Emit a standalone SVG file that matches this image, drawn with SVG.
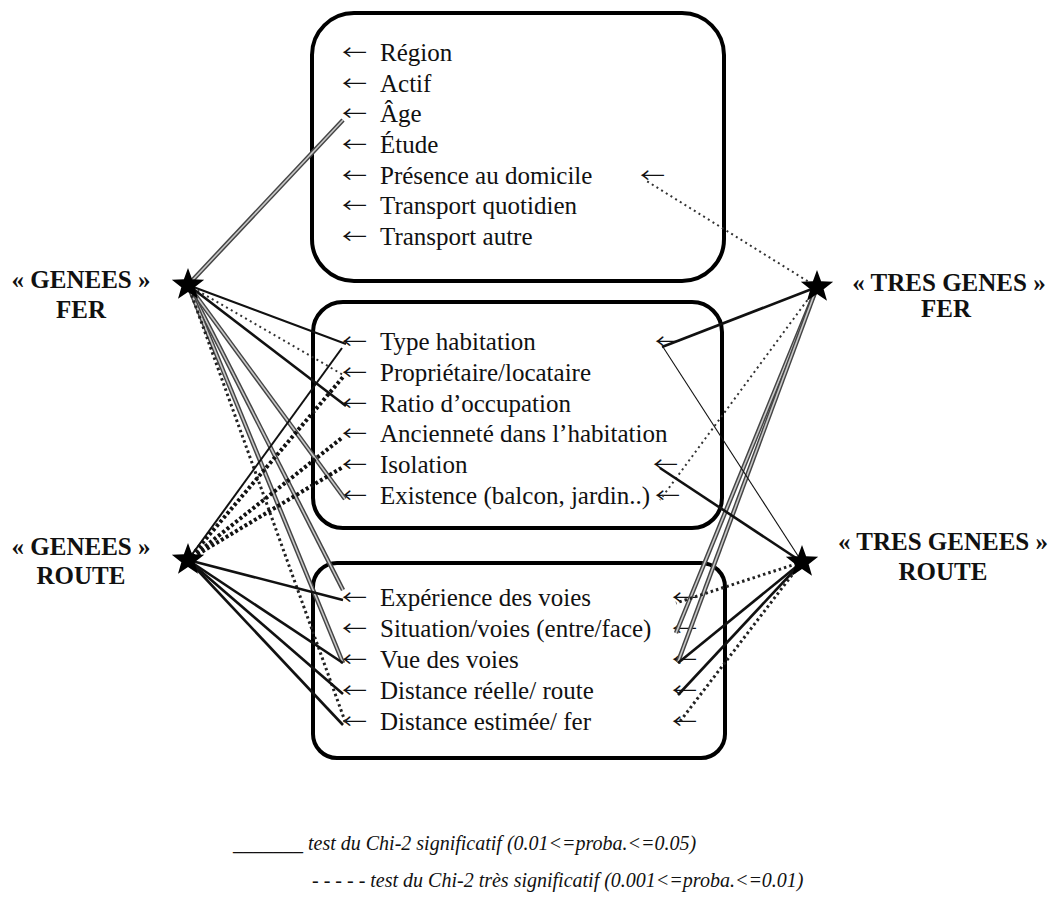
<svg xmlns="http://www.w3.org/2000/svg" width="1055" height="900" viewBox="0 0 1055 900">
<style>
.box{fill:none;stroke:#000;stroke-width:4}
.t{font-family:"Liberation Serif","Times New Roman",serif;font-size:25px;fill:#111}
.a{font-family:"Noto Sans CJK SC","Noto Sans CJK JP",sans-serif;font-size:20px;fill:#111}
.lab{font-family:"Liberation Serif","Times New Roman",serif;font-size:25px;font-weight:bold;fill:#111;text-anchor:middle}
.leg{font-family:"Liberation Serif","Times New Roman",serif;font-size:20px;font-style:italic;fill:#111}
.s{fill:none;stroke:#111;stroke-width:2.6}
.s2{fill:none;stroke:#111;stroke-width:2}
.s1{fill:none;stroke:#111;stroke-width:1.1}
.ga{fill:none;stroke:#444;stroke-width:4.5}
.gb{fill:none;stroke:#c8c8c8;stroke-width:1.6}
.d{fill:none;stroke:#222;stroke-width:3;stroke-dasharray:2.5 3}
.dh{fill:none;stroke:#111;stroke-width:4;stroke-dasharray:3 2.5}
.dt{fill:none;stroke:#333;stroke-width:2;stroke-dasharray:2 3.5}
.star{fill:#000}
</style>
<defs>
<path id="star" d="M0,-17 L4.11,-5.66 L16.17,-5.25 L6.66,2.16 L9.99,13.75 L0,7 L-9.99,13.75 L-6.66,2.16 L-16.17,-5.25 L-4.11,-5.66 Z"/>
</defs>
<rect width="1055" height="900" fill="#fff"/>

<g id="box-top">
<rect class="box" x="312" y="13" width="412" height="268" rx="42" ry="42"/>
<text class="a" x="342" y="60" textLength="25" lengthAdjust="spacingAndGlyphs">←</text><text class="t" x="380" y="61">Région</text>
<text class="a" x="342" y="91" textLength="25" lengthAdjust="spacingAndGlyphs">←</text><text class="t" x="380" y="92">Actif</text>
<text class="a" x="342" y="121" textLength="25" lengthAdjust="spacingAndGlyphs">←</text><text class="t" x="380" y="122">Âge</text>
<text class="a" x="342" y="152" textLength="25" lengthAdjust="spacingAndGlyphs">←</text><text class="t" x="380" y="153">Étude</text>
<text class="a" x="342" y="183" textLength="25" lengthAdjust="spacingAndGlyphs">←</text><text class="t" x="380" y="184">Présence au domicile</text>
<text class="a" x="640" y="183" textLength="25" lengthAdjust="spacingAndGlyphs">←</text>
<text class="a" x="342" y="213" textLength="25" lengthAdjust="spacingAndGlyphs">←</text><text class="t" x="380" y="214">Transport quotidien</text>
<text class="a" x="342" y="244" textLength="25" lengthAdjust="spacingAndGlyphs">←</text><text class="t" x="380" y="245">Transport autre</text>
</g>

<g id="box-mid">
<rect class="box" x="313" y="302" width="409" height="226" rx="30" ry="30"/>
<text class="a" x="342" y="349" textLength="25" lengthAdjust="spacingAndGlyphs">←</text><text class="t" x="380" y="350">Type habitation</text>
<text class="a" x="655" y="349" textLength="25" lengthAdjust="spacingAndGlyphs">←</text>
<text class="a" x="342" y="380" textLength="25" lengthAdjust="spacingAndGlyphs">←</text><text class="t" x="380" y="381">Propriétaire/locataire</text>
<text class="a" x="342" y="411" textLength="25" lengthAdjust="spacingAndGlyphs">←</text><text class="t" x="380" y="412">Ratio d’occupation</text>
<text class="a" x="342" y="441" textLength="25" lengthAdjust="spacingAndGlyphs">←</text><text class="t" x="380" y="442">Ancienneté dans l’habitation</text>
<text class="a" x="342" y="472" textLength="25" lengthAdjust="spacingAndGlyphs">←</text><text class="t" x="380" y="473">Isolation</text>
<text class="a" x="653" y="472" textLength="25" lengthAdjust="spacingAndGlyphs">←</text>
<text class="a" x="342" y="503" textLength="25" lengthAdjust="spacingAndGlyphs">←</text><text class="t" x="380" y="504">Existence (balcon, jardin..)</text>
<text class="a" x="655" y="503" textLength="25" lengthAdjust="spacingAndGlyphs">←</text>
</g>

<g id="box-bottom">
<rect class="box" x="313" y="563" width="412" height="195" rx="24" ry="24"/>
<text class="a" x="342" y="605" textLength="25" lengthAdjust="spacingAndGlyphs">←</text><text class="t" x="380" y="606">Expérience des voies</text>
<text class="a" x="672" y="605" textLength="25" lengthAdjust="spacingAndGlyphs">←</text>
<text class="a" x="342" y="636" textLength="25" lengthAdjust="spacingAndGlyphs">←</text><text class="t" x="380" y="637">Situation/voies (entre/face)</text>
<text class="a" x="672" y="636" textLength="25" lengthAdjust="spacingAndGlyphs">←</text>
<text class="a" x="342" y="667" textLength="25" lengthAdjust="spacingAndGlyphs">←</text><text class="t" x="380" y="668">Vue des voies</text>
<text class="a" x="672" y="667" textLength="25" lengthAdjust="spacingAndGlyphs">←</text>
<text class="a" x="342" y="698" textLength="25" lengthAdjust="spacingAndGlyphs">←</text><text class="t" x="380" y="699">Distance réelle/ route</text>
<text class="a" x="672" y="698" textLength="25" lengthAdjust="spacingAndGlyphs">←</text>
<text class="a" x="342" y="729" textLength="25" lengthAdjust="spacingAndGlyphs">←</text><text class="t" x="380" y="730">Distance estimée/ fer</text>
<text class="a" x="672" y="729" textLength="25" lengthAdjust="spacingAndGlyphs">←</text>
</g>

<g id="connectors">
<!-- GENEES FER (188,285) -->
<path class="ga" d="M188,285 L343,120"/><path class="gb" d="M188,285 L343,120"/>
<path class="s2" d="M188,285 L346,344"/>
<path class="dt" d="M188,285 L345,376"/>
<path class="s" d="M188,285 L346,406"/>
<path class="ga" d="M188,285 L345,499"/><path class="gb" d="M188,285 L345,499"/>
<path class="ga" d="M188,285 L343,590"/><path class="gb" d="M188,285 L343,590"/>
<path class="ga" d="M188,285 L343,663"/><path class="gb" d="M188,285 L343,663"/>
<path class="d" d="M188,285 L346,724"/>
<!-- GENEES ROUTE (188,560) -->
<path class="s2" d="M188,560 L342,348"/>
<path class="dh" d="M188,560 L343,377"/>
<path class="dh" d="M188,560 L343,437"/>
<path class="dh" d="M188,560 L343,467"/>
<path class="s" d="M188,560 L343,600"/>
<path class="s" d="M188,560 L343,663"/>
<path class="s" d="M188,560 L343,694"/>
<path class="s" d="M188,560 L343,725"/>
<!-- TRES GENES FER (817,287) -->
<path class="dt" d="M817,287 L645,180"/>
<path class="s" d="M817,287 L662,347"/>
<path class="dt" d="M817,287 L660,500"/>
<path class="ga" d="M817,287 L676,633"/><path class="gb" d="M817,287 L676,633"/>
<path class="ga" d="M817,287 L678,662"/><path class="gb" d="M817,287 L678,662"/>
<!-- TRES GENEES ROUTE (802,562) -->
<path class="s1" d="M802,562 L663,347"/>
<path class="s" d="M802,562 L660,468"/>
<path class="d" d="M802,562 L676,603"/>
<path class="s" d="M802,562 L678,663"/>
<path class="s" d="M802,562 L678,695"/>
<path class="d" d="M802,562 L678,724"/>
</g>

<g id="genees-fer">
<use href="#star" class="star" x="188" y="285"/>
<text class="lab" x="81" y="288">« GENEES »</text>
<text class="lab" x="81" y="318">FER</text>
</g>
<g id="genees-route">
<use href="#star" class="star" x="188" y="560"/>
<text class="lab" x="81" y="555">« GENEES »</text>
<text class="lab" x="81" y="584">ROUTE</text>
</g>
<g id="tres-genes-fer">
<use href="#star" class="star" x="817" y="287"/>
<text class="lab" x="949" y="291">« TRES GENES »</text>
<text class="lab" x="946" y="317">FER</text>
</g>
<g id="tres-genees-route">
<use href="#star" class="star" x="802" y="562"/>
<text class="lab" x="943" y="550">« TRES GENEES »</text>
<text class="lab" x="943" y="580">ROUTE</text>
</g>

<g id="legend">
<text class="leg" x="233" y="850">_______ test du Chi-2 significatif (0.01&lt;=proba.&lt;=0.05)</text>
<text class="leg" x="312" y="887">- - - - - test du Chi-2 très significatif (0.001&lt;=proba.&lt;=0.01)</text>
</g>
</svg>
